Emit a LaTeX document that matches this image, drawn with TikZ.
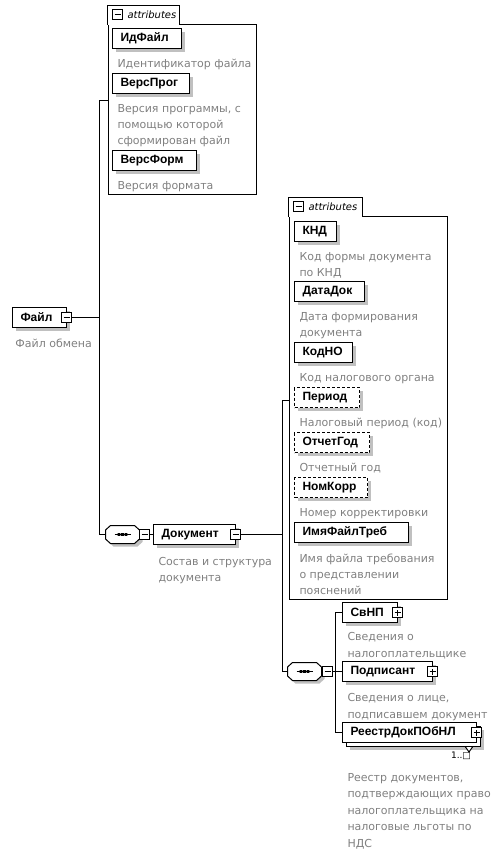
\documentclass[tikz,border=0pt]{standalone}
\usepackage{fontspec}
\setmainfont{DejaVu Sans}
\newfontfamily\lblfont{Liberation Sans}
\usetikzlibrary{backgrounds}
\definecolor{desccol}{RGB}{128,128,128}
\definecolor{shadecol}{RGB}{192,192,192}

% sequence compositor: name, x, y
\newcommand\seqgrp[3]{%
  \fill[shadecol,shift={(#2+3,#3+3)}] (-17,-4.5) -- (-12,-9) -- (12,-9) -- (17,-4.5) -- (17,4.5) -- (12,9) -- (-12,9) -- (-17,4.5) -- cycle;
  \filldraw[fill=white,shift={(#2,#3)}] (-17,-4.5) -- (-12,-9) -- (12,-9) -- (17,-4.5) -- (17,4.5) -- (12,9) -- (-12,9) -- (-17,4.5) -- cycle;
  \draw[shift={(#2,#3)}] (-8,0) -- (8,0);
  \fill[shift={(#2,#3)}] foreach \d in {-3.5,0,3.5} {(\d-1.3,-1.3) rectangle (\d+1.3,1.3)};
  \node[seqbox] (#1) at (#2,#3) {};
}

\begin{document}
\begin{tikzpicture}[x=1pt,y=-1pt,line width=1pt,
  elem/.style={draw,fill=white,anchor=west,minimum height=20pt,inner xsep=8pt,inner ysep=0pt,outer sep=0pt,text width=#1pt,align=left,font=\lblfont\fontsize{12}{14}\selectfont\bfseries},
  optelem/.style={elem=#1,dash pattern=on 3pt off 2pt},
  multielem/.style={elem=#1},
  desc/.style={anchor=north west,align=left,inner sep=0pt,text=desccol,font=\fontsize{11}{16.4}\selectfont},
  pmbox/.style={draw,fill=white,minimum size=10pt,inner sep=0pt},
  minus/.style={pmbox,path picture={\draw ([xshift=-3pt]path picture bounding box.center) -- ([xshift=3pt]path picture bounding box.center);}},
  plus/.style={pmbox,path picture={\draw ([xshift=-3pt]path picture bounding box.center) -- ([xshift=3pt]path picture bounding box.center) ([yshift=-3pt]path picture bounding box.center) -- ([yshift=3pt]path picture bounding box.center);}},
  attrgrp/.style={draw,anchor=north west,inner sep=0pt},
  attrlbl/.style={anchor=west,inner sep=0pt,font=\fontsize{10}{12}\selectfont\itshape},
  seqbox/.style={minimum width=34pt,minimum height=18pt,inner sep=0pt},
  occ/.style={inner sep=0pt,font=\fontsize{9}{11}\selectfont}]
\useasboundingbox (0,0) rectangle (501,858);

% Файл
\node[elem=38] (fajl) at (12.5,317.5) {Файл};
\node[minus] (fajlM) at (fajl.east) {};
\node[desc] (fajlD) at (15,338) {Файл обмена};
\coordinate (trunkA) at (99.5,317.5);

% attributes of Файл
\node[attrgrp,minimum width=148pt,minimum height=170pt] (attrA) at (107.5,24.5) {};
\filldraw[fill=white] ([yshift=-0.5pt]attrA.north west) -- ++(0,-19.5) -- ++(72,0) -- ++(0,19.5);
\node[minus] (attrAm) at ([shift={(10pt,9.5pt)}]attrA.north west) {};
\node[attrlbl] (attrAt) at ([xshift=4pt]attrAm.east) {attributes};
\node[elem=53] (idfajl) at (112.5,38.5) {ИдФайл};
\node[desc] (idfajlD) at (117,59) {Идентификатор файла};
\node[elem=61] (versprog) at (112.5,83.5) {ВерсПрог};
\node[desc] (versprogD) at (117,103.5) {Версия программы, с\\помощью которой\\сформирован файл};
\node[elem=68] (versform) at (112.5,160.5) {ВерсФорм};
\node[desc] (versformD) at (117,180.5) {Версия формата};

% Документ
\seqgrp{seqA}{122.5}{534.5}
\node[minus] (seqAm) at (144.5,534.5) {};
\node[elem=66] (dok) at (153.5,534.5) {Документ};
\node[minus] (dokM) at (dok.east) {};
\node[desc] (dokD) at (158,556.5) {Состав и структура\\документа};
\coordinate (trunkB) at (282.5,534.5);

% attributes of Документ
\node[attrgrp,minimum width=158pt,minimum height=382pt] (attrB) at (288.5,216.5) {};
\filldraw[fill=white] ([yshift=-0.5pt]attrB.north west) -- ++(0,-19.5) -- ++(74,0) -- ++(0,19.5);
\node[minus] (attrBm) at ([shift={(10pt,9.5pt)}]attrB.north west) {};
\node[attrlbl] (attrBt) at ([xshift=4pt]attrBm.east) {attributes};
\node[elem=26] (knd) at (294.5,231.5) {КНД};
\node[desc] (kndD) at (299,252) {Код формы документа\\по КНД};
\node[elem=54] (datadok) at (294.5,291.5) {ДатаДок};
\node[desc] (datadokD) at (299,312) {Дата формирования\\документа};
\node[elem=42] (kodno) at (294.5,352.5) {КодНО};
\node[desc] (kodnoD) at (299,373) {Код налогового органа};
\node[optelem=49] (period) at (294.5,397.5) {Период};
\node[desc] (periodD) at (299,418) {Налоговый период (код)};
\node[optelem=59] (otchgod) at (294.5,442.5) {ОтчетГод};
\node[desc] (otchgodD) at (299,463) {Отчетный год};
\node[optelem=57] (nomkorr) at (294.5,487.5) {НомКорр};
\node[desc] (nomkorrD) at (299,508) {Номер корректировки};
\node[elem=98] (imjatreb) at (294.5,532.5) {ИмяФайлТреб};
\node[desc] (imjatrebD) at (299,553) {Имя файла требования\\о представлении\\пояснений};

% children of Документ
\seqgrp{seqB}{304.5}{671.5}
\node[minus] (seqBm) at (327.5,671.5) {};
\coordinate (brB) at (335.5,671.5);
\node[elem=39] (svnp) at (342.5,612.5) {СвНП};
\node[plus] (svnpP) at (svnp.east) {};
\node[desc] (svnpD) at (347,632) {Сведения о\\налогоплательщике};
\node[elem=74] (podp) at (342.5,671.5) {Подписант};
\node[plus] (podpP) at (podp.east) {};
\node[desc] (podpD) at (347,693) {Сведения о лице,\\подписавшем документ};
\node[multielem=118] (reestr) at (342.5,732.5) {РеестрДокПОбНЛ};
\node[plus] (reestrP) at (reestr.east) {};
\draw[fill=white] ([shift={(-11pt,-4.5pt)}]reestr.south east) -- ++(3.5,5) -- ++(3.5,-5);
\node[occ] (reestrN) at ([shift={(-15.5pt,-13pt)}]reestr.south east) {1..□};
\node[desc] (reestrD) at (347,773) {Реестр документов,\\подтверждающих право\\налогоплательщика на\\налоговые льготы по\\НДС};

% shadows
\begin{scope}[on background layer]
\foreach \n in {fajl,idfajl,versprog,versform,dok,knd,datadok,kodno,period,otchgod,nomkorr,imjatreb,svnp,podp}
  \fill[shadecol] ([shift={(3.5pt,-3.5pt)}]\n.south west) rectangle ([shift={(3.5pt,-3.5pt)}]\n.north east);
\fill[shadecol] ([shift={(7.5pt,-7.5pt)}]reestr.south west) rectangle ([shift={(7.5pt,-7.5pt)}]reestr.north east);
\filldraw[fill=white] ([shift={(4pt,-4pt)}]reestr.south west) rectangle ([shift={(4pt,-4pt)}]reestr.north east);
\end{scope}

% connectors
\draw (fajlM.east) -- (trunkA);
\draw ([yshift=9pt]attrA.west) -| (trunkA);
\draw (seqA.west) -| (trunkA);
\draw (seqAm.east) -- (dok.west);
\draw (dokM.east) -- (trunkB);
\draw ([yshift=8pt]attrB.west) -| (trunkB);
\draw (seqB.west) -| (trunkB);
\draw (seqBm.east) -- (brB);
\draw (svnp.west) -| (brB);
\draw (podp.west) -- (brB);
\draw (reestr.west) -| (brB);
\end{tikzpicture}
\end{document}
